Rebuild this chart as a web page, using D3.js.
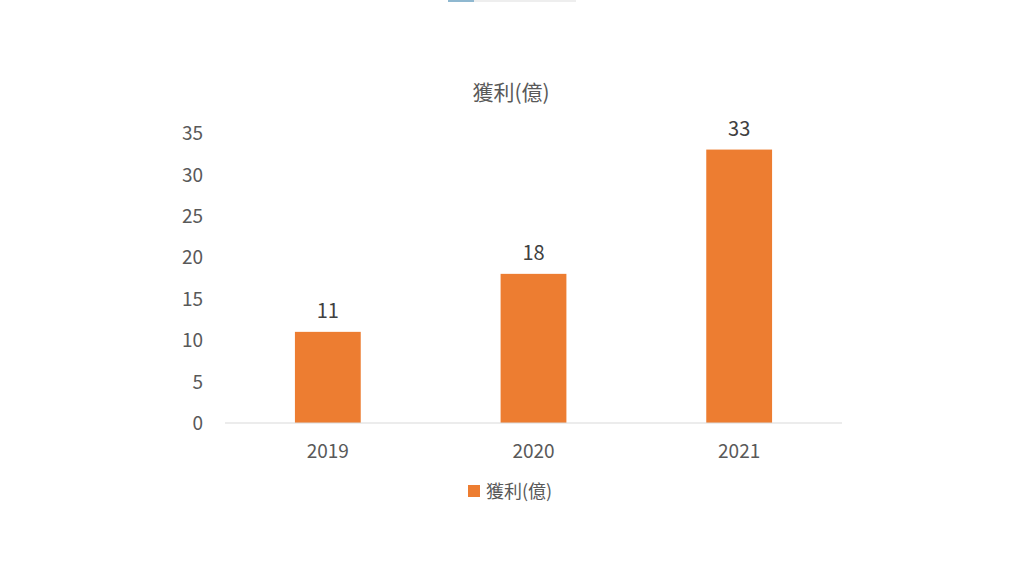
<!DOCTYPE html>
<html><head><meta charset="utf-8">
<script src="https://cdn.jsdelivr.net/npm/d3@7"></script>
<style>body{margin:0;background:#fff}text{font-family:"Noto Sans CJK TC","Noto Sans",sans-serif}</style>
</head><body>
<svg id="c" width="1024" height="576"></svg>
<script>
const years = ["2019", "2020", "2021"]
const profit = [11, 18, 33]
const yTicks = [0, 5, 10, 15, 20, 25, 30, 35]
const seriesName = "獲利(億)"

const svg = d3.select("#c")
const color = "#ed7d31", textColor = "#595959"

// thin strip at the very top
svg.append("rect").attr("x", 448).attr("y", 0).attr("width", 128).attr("height", 2).attr("fill", "#eeeeee")
svg.append("rect").attr("x", 448).attr("y", 0).attr("width", 26).attr("height", 2).attr("fill", "#8fb8d0")

const x = d3.scaleBand().domain(years).range([225, 842]).paddingInner(0.68).paddingOuter(0.34)
const y = d3.scaleLinear().domain([0, 35]).range([423, 133])

svg.append("text").attr("x", 511).attr("y", 100).attr("text-anchor", "middle")
  .attr("font-size", 21).attr("fill", textColor).text(seriesName)

const yAxis = svg.append("g").attr("transform", "translate(203,0)")
  .call(d3.axisLeft(y).tickValues(yTicks).tickSize(0).tickPadding(0))
yAxis.select(".domain").remove()
yAxis.selectAll("text").attr("font-size", 19).attr("fill", textColor).attr("text-anchor", "end").attr("dy", "0.35em")

svg.selectAll(".bar").data(years).join("rect").attr("class", "bar")
  .attr("x", d => x(d)).attr("width", x.bandwidth())
  .attr("y", (d, i) => y(profit[i])).attr("height", (d, i) => y(0) - y(profit[i]))
  .attr("fill", color)

svg.selectAll(".lbl").data(years).join("text").attr("class", "lbl")
  .attr("x", d => x(d) + x.bandwidth() / 2).attr("y", (d, i) => y(profit[i]) - 14)
  .attr("text-anchor", "middle").attr("font-size", 20).attr("fill", "#404040")
  .text((d, i) => profit[i])

svg.append("line").attr("x1", 225).attr("x2", 842).attr("y1", y(0)).attr("y2", y(0))
  .attr("stroke", "#d9d9d9").attr("stroke-width", 1)

const xAxis = svg.append("g").attr("transform", `translate(0,${y(0)})`)
  .call(d3.axisBottom(x).tickSize(0).tickPadding(22))
xAxis.select(".domain").remove()
xAxis.selectAll("text").attr("font-size", 19).attr("fill", textColor)

svg.append("rect").attr("x", 468).attr("y", 485).attr("width", 12).attr("height", 12).attr("fill", color)
svg.append("text").attr("x", 486).attr("y", 498).attr("font-size", 18).attr("fill", textColor).text(seriesName)
</script>
</body></html>
